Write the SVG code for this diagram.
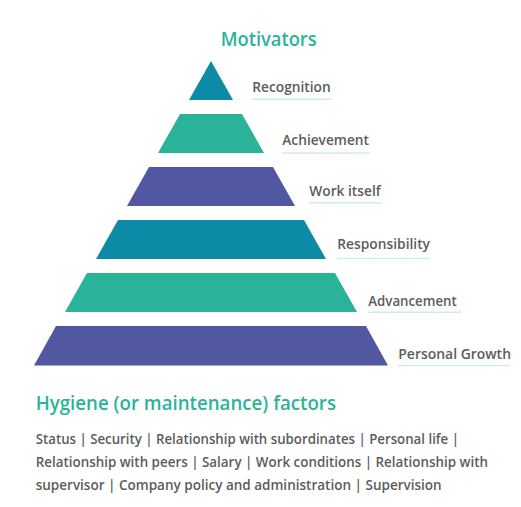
<svg xmlns="http://www.w3.org/2000/svg" width="521" height="507" viewBox="0 0 521 507">
<style>
.blue{fill:#0c8aa6}
.green{fill:#2bb39a}
.purple{fill:#5157a1}
.title{font-family:"Open Sans","Liberation Sans",sans-serif;font-weight:600;fill:#2bb39a}
.lbl{font-family:"Open Sans","Liberation Sans",sans-serif;font-size:14px;font-weight:600;fill:#5c5c5c}
.body{font-family:"Open Sans","Liberation Sans",sans-serif;font-size:13.5px;font-weight:600;fill:#5c5c5c}
.ul{stroke:#cdeee8;stroke-width:1.5;fill:none}
</style>
<rect width="521" height="507" fill="#ffffff"/>
<text class="title" x="220.7" y="46" font-size="20" textLength="96" lengthAdjust="spacingAndGlyphs">Motivators</text>

<g id="level1">
<polygon class="blue" points="211,61 233,100 189,100"/>
<text class="lbl" x="252.3" y="92.3" textLength="78.4" lengthAdjust="spacingAndGlyphs">Recognition</text>
<line class="ul" x1="251.7" y1="99.3" x2="331.7" y2="99.3"/>
</g>
<g id="level2">
<polygon class="green" points="180,114 242,114 264,153 158,153"/>
<text class="lbl" x="282.3" y="145.3" textLength="86.7" lengthAdjust="spacingAndGlyphs">Achievement</text>
<line class="ul" x1="282" y1="153" x2="370" y2="153"/>
</g>
<g id="level3">
<polygon class="purple" points="149,167 273,167 295,206 127,206"/>
<text class="lbl" x="309.3" y="195.7" textLength="71.4" lengthAdjust="spacingAndGlyphs">Work itself</text>
<line class="ul" x1="309" y1="202.7" x2="382" y2="202.7"/>
</g>
<g id="level4">
<polygon class="blue" points="118,220 304,220 326,259 96,259"/>
<text class="lbl" x="337.3" y="249.3" textLength="92.7" lengthAdjust="spacingAndGlyphs">Responsibility</text>
<line class="ul" x1="337" y1="258.5" x2="430" y2="258.5"/>
</g>
<g id="level5">
<polygon class="green" points="87,273 335,273 357,312 65,312"/>
<text class="lbl" x="368.3" y="306.3" textLength="88.4" lengthAdjust="spacingAndGlyphs">Advancement</text>
<line class="ul" x1="368" y1="312.3" x2="461.7" y2="312.3"/>
</g>
<g id="level6">
<polygon class="purple" points="56,326 366,326 388,365.5 34,365.5"/>
<text class="lbl" x="398.3" y="358.7" textLength="112.7" lengthAdjust="spacingAndGlyphs">Personal Growth</text>
<line class="ul" x1="398" y1="365.5" x2="510" y2="365.5"/>
</g>

<g id="hygiene">
<text class="title" x="35.7" y="410" font-size="19" textLength="300.3" lengthAdjust="spacingAndGlyphs">Hygiene (or maintenance) factors</text>
<text class="body" x="35.7" y="444" textLength="423.3" lengthAdjust="spacingAndGlyphs">Status | Security | Relationship with subordinates | Personal life |</text>
<text class="body" x="35.7" y="466.7" textLength="452.3" lengthAdjust="spacingAndGlyphs">Relationship with peers | Salary | Work conditions | Relationship with</text>
<text class="body" x="35.7" y="489.5" textLength="406" lengthAdjust="spacingAndGlyphs">supervisor | Company policy and administration | Supervision</text>
</g>
</svg>
